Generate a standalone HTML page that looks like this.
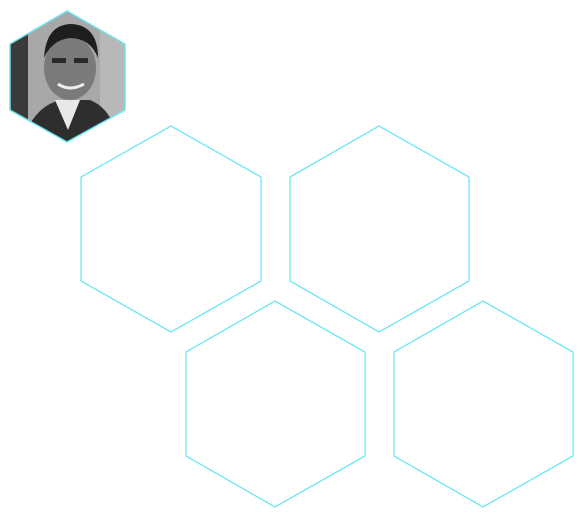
<!DOCTYPE html>
<html><head><meta charset="utf-8"><style>html,body{margin:0;padding:0;background:#fff;width:588px;height:518px;overflow:hidden}</style></head>
<body>
<svg width="588" height="518" viewBox="0 0 588 518" xmlns="http://www.w3.org/2000/svg">
<defs><clipPath id="hc"><polygon points="67,11 125,44 125,110 67,142 10,110 10,44"/></clipPath></defs>
<g clip-path="url(#hc)">
<rect x="0" y="0" width="140" height="150" fill="#a8a8a8"/>
<rect x="10" y="0" width="18" height="150" fill="#3a3a3a"/>
<rect x="100" y="0" width="30" height="150" fill="#b8b8b8"/>
<path d="M20,150 Q30,108 60,100 L90,100 Q115,110 120,150 Z" fill="#2e2e2e"/>
<path d="M55,100 L68,130 L80,100 Z" fill="#e8e8e8"/>
<ellipse cx="70" cy="68" rx="26" ry="32" fill="#7a7a7a"/>
<path d="M44,58 Q46,24 72,24 Q98,26 98,58 Q90,38 70,38 Q52,40 44,58 Z" fill="#1e1e1e"/>
<rect x="52" y="58" width="14" height="5" fill="#2a2a2a"/>
<rect x="74" y="58" width="14" height="5" fill="#2a2a2a"/>
<path d="M58,84 Q70,92 84,84" stroke="#eee" stroke-width="3" fill="none"/>
</g>
<polygon points="67,11 125,44 125,110 67,142 10,110 10,44" fill="none" stroke="#6fe6f2" stroke-width="1.5"/>
<polygon points="171,126 261,177 261,281 171,332 81,281 81,177" fill="none" stroke="#6fe6f2" stroke-width="1.3"/>
<polygon points="379,126 469,177 469,281 379,332 290,281 290,177" fill="none" stroke="#6fe6f2" stroke-width="1.3"/>
<polygon points="275,301 365,352 365,456 275,507 186,456 186,352" fill="none" stroke="#6fe6f2" stroke-width="1.3"/>
<polygon points="483,301 573,352 573,456 483,507 394,456 394,352" fill="none" stroke="#6fe6f2" stroke-width="1.3"/>
</svg>
</body></html>
